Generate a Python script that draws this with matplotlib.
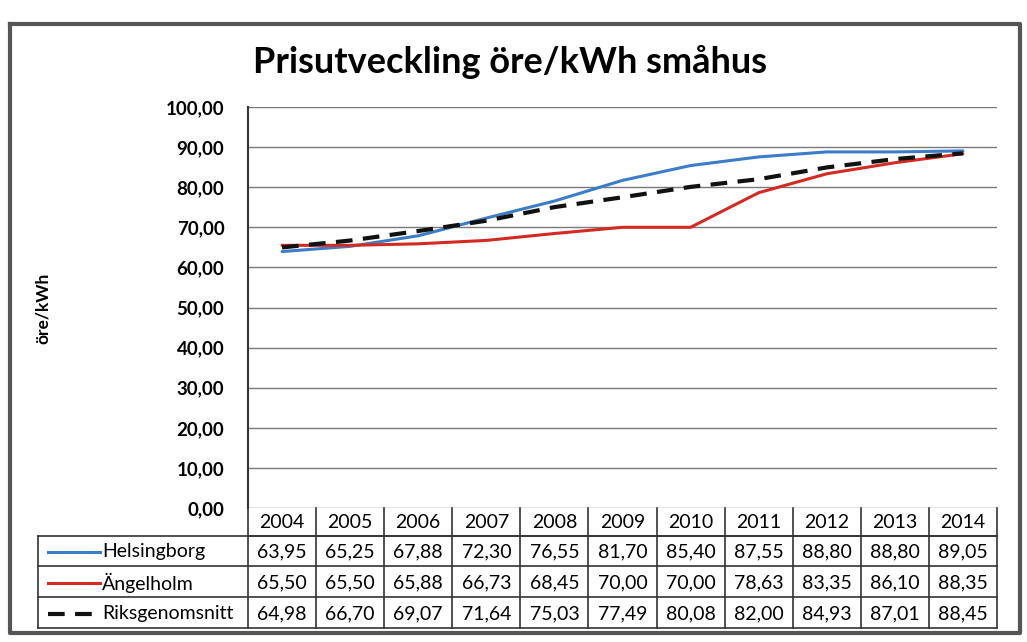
import numpy as np
import matplotlib
matplotlib.use('Agg')
import matplotlib.pyplot as plt

years = ['2004', '2005', '2006', '2007', '2008', '2009', '2010', '2011', '2012', '2013', '2014']
helsingborg = [63.95, 65.25, 67.88, 72.30, 76.55, 81.70, 85.40, 87.55, 88.80, 88.80, 89.05]
angelholm = [65.50, 65.50, 65.88, 66.73, 68.45, 70.00, 70.00, 78.63, 83.35, 86.10, 88.35]
riks = [64.98, 66.70, 69.07, 71.64, 75.03, 77.49, 80.08, 82.00, 84.93, 87.01, 88.45]
series_names = ['Helsingborg', 'Ängelholm', 'Riksgenomsnitt']

plt.rcParams['font.family'] = ['Lato', 'DejaVu Sans']

W, H = 1027, 642
fig = plt.figure(figsize=(W / 100, H / 100), dpi=100)

# overlay axes in pixel coords for frame + table
tab = fig.add_axes([0, 0, 1, 1], zorder=0)
tab.set_xlim(0, W)
tab.set_ylim(H, 0)
tab.axis('off')

# main plot area
ax_l, ax_r, ax_t, ax_b = 248, 997, 107, 508
ax = fig.add_axes([ax_l / W, 1 - ax_b / H, (ax_r - ax_l) / W, (ax_b - ax_t) / H], zorder=2)
ax.patch.set_alpha(0)
x = np.arange(len(years))
ax.plot(x, helsingborg, color='#3b7dc9', lw=2.2, solid_capstyle='round')
ax.plot(x, angelholm, color='#d42a22', lw=2.2, solid_capstyle='round')
ax.plot(x, riks, color='#111111', lw=3, dashes=(4, 2.5))
ax.set_xlim(-0.5, len(years) - 0.5)
ax.set_ylim(0, 100)
ax.set_yticks(np.arange(0, 101, 10))
ax.set_yticklabels([f'{v:.2f}'.replace('.', ',') for v in np.arange(0, 101, 10)],
                   fontsize=13.5, fontweight='bold')
ax.tick_params(axis='y', length=0, pad=17)
ax.set_xticks([])
ax.grid(axis='y', color='#7a7a7a', lw=1)
for s in ['top', 'right', 'bottom']:
    ax.spines[s].set_visible(False)
ax.spines['left'].set_color('#333333')
ax.spines['left'].set_linewidth(1.5)

fig.text(43 / W, 1 - 308 / H, 'öre/kWh', rotation=90, ha='center', va='center',
         fontsize=12.5, fontweight='bold')

fig.text(510 / W, 1 - 62 / H, 'Prisutveckling öre/kWh småhus', ha='center', va='center',
         fontsize=26, fontweight='bold')

# outer frame
tab.plot([10, 1020, 1020, 10, 10], [24, 24, 633, 633, 24], color='#555555', lw=3)

# data table
col_w = (ax_r - ax_l) / len(years)
hdr_top, hdr_bot = 508, 536
row_edges = [536, 566, 597, 628]
leg_l = 38
line_kw = dict(color='#333333', lw=1.2)
tab.plot([ax_l, ax_r], [hdr_bot, hdr_bot], **line_kw)
for i in range(len(years) + 1):
    xe = ax_l + i * col_w
    tab.plot([xe, xe], [hdr_top, row_edges[-1]], **line_kw)
for yv in row_edges:
    tab.plot([leg_l, ax_r], [yv, yv], **line_kw)
tab.plot([leg_l, leg_l], [row_edges[0], row_edges[-1]], **line_kw)

fs = 14
for i, yr in enumerate(years):
    tab.text(ax_l + (i + 0.5) * col_w, (hdr_top + hdr_bot) / 2 + 1, yr,
             ha='center', va='center', fontsize=fs)

styles = [dict(color='#3b7dc9', lw=2.2), dict(color='#d42a22', lw=2.2),
          dict(color='#111111', lw=3, dashes=(4, 2.5))]
for r, (name, vals, st) in enumerate(zip(series_names, [helsingborg, angelholm, riks], styles)):
    yc = (row_edges[r] + row_edges[r + 1]) / 2 + 1
    tab.plot([48, 100], [yc, yc], **st)
    tab.text(102, yc, name, ha='left', va='center', fontsize=fs)
    for i, v in enumerate(vals):
        tab.text(ax_l + (i + 0.5) * col_w, yc, f'{v:.2f}'.replace('.', ','),
                 ha='center', va='center', fontsize=fs)

plt.savefig('out.png', dpi=100)
